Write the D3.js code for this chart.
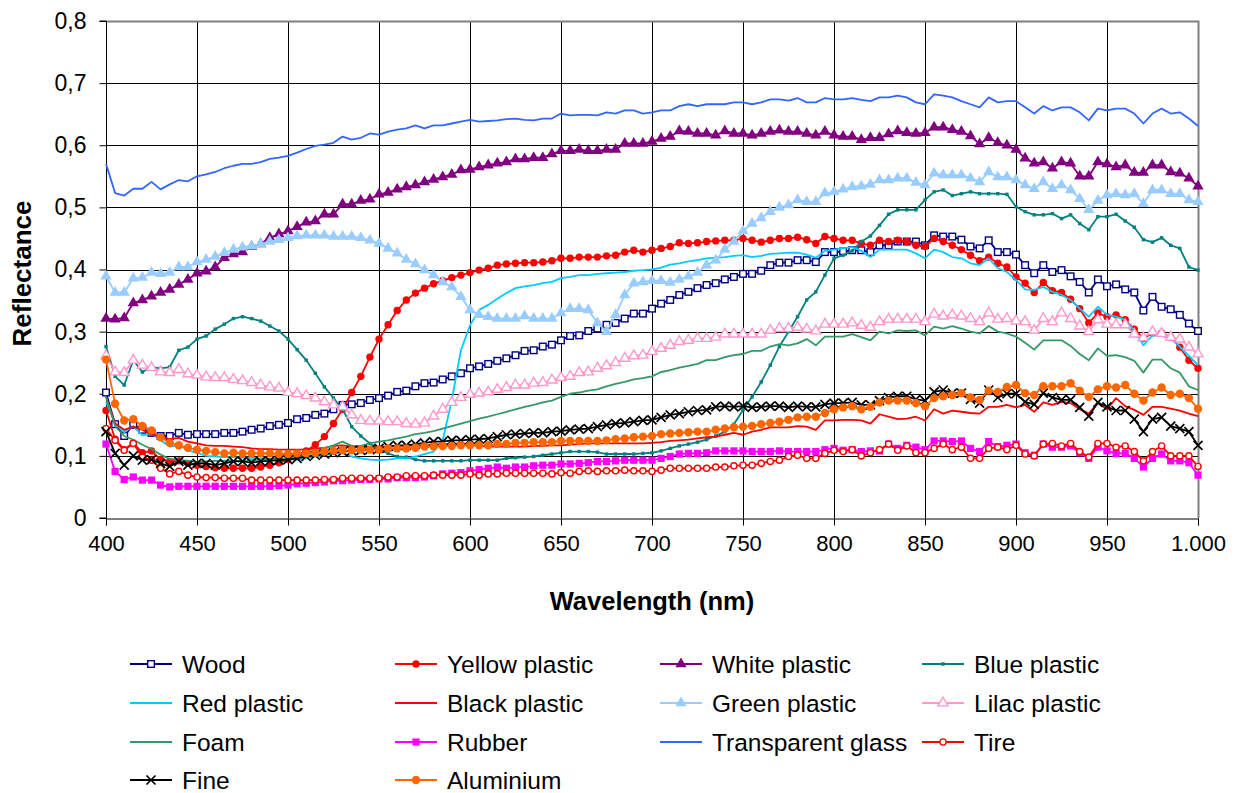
<!DOCTYPE html>
<html>
<head>
<meta charset="utf-8">
<script src="https://cdn.jsdelivr.net/npm/d3@7"></script>
<style>
body{margin:0;background:#fff;}
text{font-family:"Liberation Sans",Arial,sans-serif;fill:#000;}
</style>
</head>
<body>
<script>
// wavelengths, 5 nm step
var wavelengths = d3.range(400, 1001, 5)
var yTicks = [0, 0.1, 0.2, 0.3, 0.4, 0.5, 0.6, 0.7, 0.8]
var xTicks = [400, 450, 500, 550, 600, 650, 700, 750, 800, 850, 900, 950, 1000]

var wood = [0.202,0.151,0.132,0.150,0.142,0.137,0.132,0.132,0.137,0.134,0.135,0.135,
 0.135,0.137,0.137,0.139,0.142,0.144,0.148,0.150,0.153,0.159,0.161,0.166,
 0.168,0.175,0.182,0.183,0.185,0.190,0.193,0.197,0.203,0.205,0.212,0.217,
 0.218,0.223,0.228,0.233,0.241,0.244,0.248,0.253,0.257,0.262,0.269,0.270,
 0.276,0.279,0.286,0.293,0.294,0.301,0.305,0.311,0.314,0.321,0.329,0.329,
 0.337,0.345,0.351,0.359,0.364,0.370,0.375,0.378,0.384,0.388,0.393,0.393,
 0.398,0.407,0.411,0.411,0.415,0.415,0.412,0.428,0.428,0.429,0.431,0.431,
 0.428,0.439,0.439,0.445,0.445,0.445,0.439,0.455,0.453,0.453,0.448,0.437,
 0.434,0.447,0.428,0.428,0.424,0.407,0.394,0.407,0.396,0.399,0.389,0.380,
 0.363,0.384,0.373,0.376,0.368,0.363,0.334,0.356,0.340,0.336,0.327,0.313,
 0.301]
var yellowPlastic = [0.173,0.127,0.110,0.121,0.105,0.108,0.094,0.091,0.092,0.088,0.085,0.083,
 0.081,0.080,0.080,0.080,0.080,0.082,0.085,0.089,0.094,0.101,0.108,0.118,
 0.131,0.152,0.175,0.202,0.228,0.259,0.288,0.311,0.334,0.351,0.362,0.370,
 0.377,0.382,0.387,0.391,0.395,0.399,0.402,0.407,0.409,0.410,0.411,0.411,
 0.412,0.414,0.418,0.418,0.420,0.420,0.420,0.422,0.423,0.428,0.431,0.428,
 0.431,0.434,0.437,0.443,0.442,0.443,0.445,0.446,0.447,0.447,0.450,0.447,
 0.444,0.447,0.450,0.450,0.452,0.448,0.442,0.453,0.450,0.447,0.447,0.442,
 0.439,0.447,0.445,0.447,0.445,0.439,0.437,0.450,0.445,0.439,0.432,0.423,
 0.414,0.420,0.410,0.404,0.388,0.378,0.363,0.379,0.366,0.363,0.352,0.337,
 0.314,0.330,0.324,0.327,0.319,0.304,0.289,0.298,0.298,0.291,0.275,0.254,
 0.241]
var whitePlastic = [0.321,0.320,0.322,0.346,0.351,0.357,0.363,0.368,0.376,0.384,0.394,0.397,
 0.404,0.419,0.425,0.428,0.437,0.441,0.451,0.457,0.462,0.469,0.476,0.478,
 0.489,0.489,0.505,0.505,0.511,0.513,0.521,0.524,0.529,0.533,0.536,0.541,
 0.545,0.549,0.553,0.560,0.561,0.565,0.568,0.571,0.573,0.578,0.578,0.580,
 0.580,0.586,0.591,0.591,0.593,0.591,0.591,0.593,0.593,0.603,0.603,0.603,
 0.606,0.611,0.614,0.623,0.622,0.619,0.619,0.616,0.623,0.619,0.619,0.616,
 0.619,0.622,0.624,0.622,0.622,0.619,0.616,0.622,0.616,0.614,0.614,0.609,
 0.612,0.612,0.618,0.623,0.620,0.619,0.620,0.629,0.629,0.625,0.622,0.615,
 0.602,0.612,0.604,0.600,0.593,0.579,0.571,0.573,0.563,0.573,0.571,0.550,
 0.550,0.573,0.570,0.565,0.568,0.556,0.556,0.568,0.568,0.557,0.555,0.547,
 0.534]
var bluePlastic = [0.276,0.228,0.214,0.254,0.235,0.243,0.241,0.243,0.270,0.275,0.288,0.293,
 0.304,0.312,0.321,0.324,0.321,0.317,0.309,0.301,0.288,0.271,0.254,0.233,
 0.211,0.193,0.175,0.147,0.132,0.120,0.110,0.104,0.099,0.098,0.094,0.092,
 0.092,0.092,0.092,0.092,0.093,0.093,0.093,0.093,0.096,0.097,0.098,0.099,
 0.101,0.103,0.105,0.107,0.107,0.107,0.106,0.103,0.103,0.103,0.103,0.104,
 0.105,0.108,0.112,0.116,0.119,0.122,0.126,0.132,0.139,0.151,0.174,0.195,
 0.219,0.246,0.276,0.300,0.324,0.351,0.364,0.391,0.418,0.423,0.430,0.445,
 0.454,0.471,0.489,0.496,0.496,0.496,0.512,0.525,0.528,0.519,0.522,0.525,
 0.522,0.522,0.522,0.521,0.501,0.493,0.488,0.488,0.490,0.482,0.488,0.474,
 0.464,0.485,0.485,0.489,0.478,0.468,0.448,0.444,0.451,0.439,0.434,0.404,
 0.399]
var redPlastic = [0.187,0.153,0.138,0.148,0.133,0.136,0.125,0.115,0.117,0.109,0.105,0.100,
 0.099,0.098,0.098,0.097,0.097,0.096,0.095,0.095,0.095,0.094,0.096,0.099,
 0.101,0.104,0.105,0.099,0.096,0.094,0.093,0.094,0.096,0.096,0.099,0.103,
 0.107,0.125,0.190,0.270,0.310,0.335,0.343,0.353,0.362,0.370,0.373,0.375,
 0.378,0.380,0.386,0.388,0.391,0.391,0.393,0.394,0.395,0.396,0.398,0.399,
 0.400,0.403,0.408,0.410,0.413,0.415,0.418,0.419,0.420,0.422,0.423,0.420,
 0.422,0.425,0.426,0.427,0.427,0.424,0.419,0.430,0.432,0.434,0.436,0.430,
 0.420,0.432,0.432,0.432,0.432,0.426,0.418,0.432,0.428,0.420,0.418,0.410,
 0.407,0.418,0.402,0.396,0.383,0.368,0.367,0.372,0.364,0.359,0.351,0.337,
 0.324,0.340,0.327,0.324,0.319,0.302,0.278,0.294,0.293,0.289,0.276,0.261,
 0.246]
var blackPlastic = [0.195,0.152,0.142,0.147,0.142,0.134,0.131,0.127,0.129,0.123,0.120,0.117,
 0.116,0.116,0.115,0.114,0.112,0.111,0.111,0.110,0.110,0.110,0.110,0.112,
 0.113,0.116,0.117,0.115,0.113,0.113,0.115,0.115,0.116,0.116,0.117,0.117,
 0.118,0.119,0.119,0.120,0.118,0.116,0.115,0.115,0.115,0.115,0.115,0.116,
 0.116,0.117,0.117,0.118,0.119,0.120,0.120,0.120,0.120,0.120,0.120,0.120,
 0.121,0.122,0.124,0.125,0.126,0.128,0.130,0.131,0.134,0.137,0.134,0.139,
 0.142,0.146,0.146,0.146,0.148,0.147,0.142,0.157,0.157,0.158,0.158,0.157,
 0.152,0.167,0.163,0.159,0.160,0.163,0.157,0.175,0.168,0.173,0.171,0.169,
 0.168,0.179,0.179,0.182,0.178,0.182,0.171,0.186,0.182,0.187,0.185,0.175,
 0.168,0.185,0.175,0.193,0.180,0.174,0.166,0.179,0.179,0.176,0.173,0.168,
 0.164]
var greenPlastic = [0.389,0.363,0.363,0.386,0.387,0.395,0.393,0.395,0.404,0.404,0.412,0.416,
 0.421,0.427,0.432,0.436,0.438,0.441,0.445,0.448,0.451,0.454,0.455,0.455,
 0.455,0.453,0.453,0.453,0.451,0.447,0.442,0.434,0.426,0.416,0.409,0.399,
 0.391,0.380,0.372,0.356,0.335,0.327,0.324,0.321,0.321,0.321,0.325,0.321,
 0.321,0.321,0.330,0.337,0.337,0.335,0.314,0.300,0.327,0.359,0.378,0.380,
 0.382,0.382,0.379,0.384,0.389,0.395,0.407,0.415,0.432,0.445,0.462,0.474,
 0.483,0.493,0.500,0.504,0.512,0.509,0.509,0.523,0.525,0.529,0.533,0.534,
 0.537,0.544,0.544,0.547,0.547,0.540,0.536,0.555,0.552,0.552,0.552,0.547,
 0.541,0.557,0.549,0.549,0.544,0.536,0.530,0.541,0.530,0.536,0.528,0.514,
 0.496,0.511,0.520,0.522,0.520,0.522,0.506,0.528,0.528,0.522,0.522,0.512,
 0.509]
var lilacPlastic = [0.261,0.235,0.234,0.254,0.246,0.242,0.235,0.234,0.239,0.232,0.230,0.227,
 0.226,0.226,0.223,0.221,0.218,0.214,0.211,0.209,0.202,0.200,0.197,0.193,
 0.187,0.182,0.179,0.166,0.157,0.156,0.156,0.155,0.155,0.152,0.151,0.153,
 0.164,0.175,0.186,0.194,0.199,0.201,0.203,0.207,0.210,0.214,0.214,0.217,
 0.218,0.222,0.226,0.228,0.234,0.235,0.241,0.245,0.250,0.257,0.261,0.262,
 0.268,0.273,0.278,0.284,0.286,0.289,0.289,0.291,0.296,0.296,0.296,0.296,
 0.296,0.302,0.305,0.305,0.307,0.304,0.301,0.312,0.312,0.312,0.314,0.310,
 0.307,0.316,0.320,0.320,0.320,0.320,0.316,0.328,0.325,0.327,0.325,0.321,
 0.316,0.330,0.320,0.321,0.317,0.316,0.302,0.321,0.316,0.330,0.321,0.309,
 0.300,0.319,0.312,0.311,0.311,0.296,0.290,0.300,0.297,0.291,0.288,0.275,
 0.264]
var foam = [0.195,0.148,0.132,0.126,0.118,0.111,0.102,0.095,0.094,0.092,0.090,0.091,
 0.092,0.092,0.092,0.092,0.093,0.094,0.095,0.095,0.096,0.099,0.101,0.107,
 0.112,0.117,0.123,0.116,0.116,0.120,0.123,0.125,0.128,0.131,0.135,0.137,
 0.140,0.144,0.148,0.152,0.156,0.160,0.163,0.167,0.171,0.175,0.179,0.182,
 0.186,0.189,0.195,0.200,0.202,0.205,0.207,0.212,0.216,0.219,0.223,0.225,
 0.228,0.235,0.238,0.242,0.245,0.248,0.254,0.254,0.259,0.262,0.264,0.269,
 0.269,0.276,0.280,0.278,0.281,0.288,0.278,0.292,0.292,0.292,0.296,0.291,
 0.286,0.300,0.297,0.302,0.301,0.302,0.294,0.308,0.305,0.309,0.305,0.300,
 0.297,0.309,0.300,0.297,0.292,0.282,0.271,0.286,0.286,0.286,0.277,0.264,
 0.254,0.273,0.261,0.262,0.259,0.253,0.234,0.255,0.255,0.241,0.234,0.212,
 0.206]
var rubber = [0.119,0.075,0.062,0.066,0.061,0.061,0.053,0.050,0.051,0.051,0.051,0.051,
 0.051,0.051,0.051,0.051,0.051,0.051,0.051,0.052,0.053,0.055,0.056,0.057,
 0.058,0.060,0.060,0.061,0.062,0.062,0.063,0.063,0.065,0.065,0.065,0.066,
 0.068,0.071,0.072,0.073,0.076,0.078,0.080,0.082,0.080,0.082,0.082,0.084,
 0.085,0.085,0.087,0.087,0.088,0.089,0.091,0.091,0.092,0.093,0.093,0.093,
 0.093,0.096,0.099,0.103,0.104,0.104,0.105,0.108,0.108,0.108,0.108,0.107,
 0.107,0.107,0.108,0.107,0.107,0.107,0.107,0.110,0.112,0.109,0.110,0.107,
 0.108,0.108,0.119,0.112,0.117,0.114,0.110,0.124,0.124,0.123,0.124,0.112,
 0.107,0.123,0.115,0.117,0.119,0.105,0.101,0.119,0.114,0.114,0.116,0.105,
 0.096,0.114,0.108,0.104,0.104,0.096,0.082,0.096,0.103,0.092,0.092,0.089,
 0.069]
var transparentGlass = [0.570,0.523,0.519,0.530,0.530,0.541,0.529,0.537,0.544,0.542,0.550,0.553,
 0.557,0.563,0.567,0.570,0.570,0.573,0.578,0.580,0.583,0.588,0.594,0.599,
 0.601,0.604,0.614,0.609,0.612,0.619,0.617,0.622,0.625,0.627,0.632,0.627,
 0.632,0.632,0.635,0.638,0.641,0.638,0.639,0.640,0.642,0.643,0.641,0.640,
 0.643,0.643,0.651,0.648,0.649,0.649,0.648,0.653,0.651,0.656,0.656,0.651,
 0.653,0.656,0.656,0.663,0.666,0.663,0.666,0.666,0.666,0.669,0.669,0.666,
 0.669,0.674,0.674,0.672,0.676,0.669,0.669,0.676,0.674,0.674,0.676,0.673,
 0.671,0.677,0.677,0.680,0.677,0.669,0.666,0.682,0.680,0.677,0.671,0.666,
 0.661,0.677,0.669,0.671,0.671,0.661,0.651,0.663,0.656,0.661,0.661,0.653,
 0.640,0.659,0.656,0.659,0.659,0.651,0.635,0.651,0.659,0.651,0.653,0.643,
 0.631]
var tire = [0.144,0.125,0.109,0.120,0.098,0.093,0.080,0.071,0.075,0.069,0.066,0.065,
 0.065,0.064,0.064,0.064,0.061,0.061,0.061,0.061,0.061,0.061,0.061,0.061,
 0.062,0.062,0.064,0.064,0.064,0.064,0.064,0.066,0.066,0.068,0.068,0.068,
 0.069,0.069,0.069,0.069,0.071,0.069,0.071,0.071,0.072,0.072,0.072,0.072,
 0.072,0.071,0.073,0.072,0.075,0.076,0.075,0.076,0.076,0.077,0.076,0.076,
 0.075,0.077,0.080,0.080,0.080,0.080,0.080,0.082,0.082,0.084,0.085,0.085,
 0.088,0.091,0.093,0.099,0.101,0.096,0.096,0.104,0.109,0.107,0.110,0.100,
 0.105,0.110,0.119,0.109,0.116,0.105,0.105,0.112,0.119,0.110,0.114,0.096,
 0.096,0.112,0.114,0.110,0.117,0.103,0.100,0.119,0.120,0.116,0.120,0.107,
 0.098,0.120,0.120,0.114,0.116,0.107,0.092,0.107,0.116,0.100,0.100,0.100,
 0.083]
var fine = [0.139,0.104,0.085,0.100,0.093,0.094,0.088,0.083,0.091,0.085,0.088,0.088,
 0.085,0.088,0.091,0.091,0.089,0.091,0.092,0.093,0.094,0.096,0.099,0.101,
 0.103,0.105,0.107,0.108,0.109,0.110,0.112,0.115,0.117,0.117,0.119,0.121,
 0.123,0.123,0.125,0.125,0.126,0.127,0.128,0.131,0.134,0.135,0.136,0.137,
 0.137,0.139,0.140,0.142,0.143,0.144,0.147,0.150,0.152,0.153,0.155,0.157,
 0.158,0.162,0.166,0.168,0.171,0.173,0.174,0.179,0.180,0.179,0.180,0.178,
 0.179,0.180,0.180,0.178,0.180,0.179,0.179,0.183,0.185,0.185,0.186,0.182,
 0.182,0.189,0.194,0.196,0.196,0.191,0.189,0.203,0.206,0.201,0.201,0.191,
 0.185,0.206,0.194,0.200,0.200,0.187,0.183,0.201,0.194,0.190,0.190,0.178,
 0.164,0.186,0.179,0.173,0.173,0.159,0.139,0.159,0.162,0.148,0.144,0.139,
 0.117]
var aluminium = [0.255,0.184,0.157,0.159,0.148,0.141,0.130,0.121,0.117,0.113,0.110,0.108,
 0.106,0.104,0.105,0.104,0.104,0.104,0.104,0.103,0.103,0.104,0.104,0.105,
 0.107,0.108,0.109,0.109,0.110,0.110,0.110,0.112,0.112,0.112,0.113,0.115,
 0.115,0.116,0.116,0.117,0.117,0.117,0.117,0.119,0.119,0.121,0.121,0.122,
 0.122,0.122,0.124,0.124,0.124,0.124,0.124,0.125,0.127,0.128,0.130,0.131,
 0.132,0.135,0.136,0.137,0.138,0.139,0.139,0.142,0.144,0.146,0.147,0.148,
 0.151,0.153,0.155,0.158,0.162,0.163,0.163,0.169,0.175,0.178,0.180,0.175,
 0.179,0.186,0.189,0.189,0.189,0.185,0.180,0.193,0.196,0.198,0.201,0.194,
 0.190,0.205,0.203,0.211,0.214,0.201,0.198,0.212,0.212,0.212,0.217,0.205,
 0.195,0.207,0.212,0.210,0.214,0.200,0.189,0.202,0.210,0.198,0.200,0.193,
 0.176]

var seriesNames = ["Wood","Yellow plastic","White plastic","Blue plastic","Red plastic","Black plastic",
 "Green plastic","Lilac plastic","Foam","Rubber","Transparent glass","Tire","Fine","Aluminium"]
var seriesValues = [wood,yellowPlastic,whitePlastic,bluePlastic,redPlastic,blackPlastic,
 greenPlastic,lilacPlastic,foam,rubber,transparentGlass,tire,fine,aluminium]
var seriesColors = ["#000080","#ff0000","#800080","#008080","#00ccff","#ff0000",
 "#99ccff","#ff99cc","#339966","#ff00ff","#3366ff","#ff0000","#000000","#ff6600"]
var seriesMarkers = ["squareOpen","circle","triangle","dot","none","none",
 "triangle","triangleOpen","none","square","none","circleOpen","cross","circleBig"]

var width = 1237, height = 793
var margin = {top: 21, right: 39, bottom: 275, left: 106}
var w = width - margin.left - margin.right
var h = height - margin.top - margin.bottom

var svg = d3.select("body").append("svg")
  .attr("width", width)
  .attr("height", height)

var x = d3.scaleLinear().domain([400, 1000]).range([margin.left, margin.left + w])
var y = d3.scaleLinear().domain([0, 0.8]).range([margin.top + h, margin.top])

var loc = d3.formatLocale({decimal: ",", thousands: ".", grouping: [3], currency: ["", ""]})
var fy = function(d){ return d === 0 ? "0" : loc.format(".1f")(d) }
var fx = loc.format(",")

// grid
svg.append("g").selectAll("line.h").data(yTicks.slice(1, -1)).enter().append("line")
  .attr("x1", margin.left).attr("x2", margin.left + w)
  .attr("y1", function(d){ return Math.round(y(d)) + 0.5 })
  .attr("y2", function(d){ return Math.round(y(d)) + 0.5 })
  .attr("stroke", "#000").attr("stroke-width", 1)
svg.append("g").selectAll("line.v").data(xTicks.slice(1, -1)).enter().append("line")
  .attr("y1", margin.top).attr("y2", margin.top + h)
  .attr("x1", function(d){ return Math.round(x(d)) + 0.5 })
  .attr("x2", function(d){ return Math.round(x(d)) + 0.5 })
  .attr("stroke", "#000").attr("stroke-width", 1)

// plot border top / right
svg.append("path")
  .attr("d", "M" + margin.left + "," + (margin.top + 0.5) + "H" + (margin.left + w + 0.5) + "V" + (margin.top + h))
  .attr("fill", "none").attr("stroke", "#808080").attr("stroke-width", 2)

// axes
var yAxis = d3.axisLeft(y).tickValues(yTicks).tickFormat(fy).tickSize(7).tickPadding(13)
var xAxis = d3.axisBottom(x).tickValues(xTicks).tickFormat(fx).tickSize(7).tickPadding(10)
var gy = svg.append("g").attr("transform", "translate(" + (margin.left + 0.5) + ",0)").call(yAxis)
var gx = svg.append("g").attr("transform", "translate(0," + (margin.top + h + 0.5) + ")").call(xAxis)
gy.selectAll("text").style("font-size", "23px")
gx.selectAll("text").style("font-size", "22px")
gy.selectAll("path,line").attr("stroke", "#000")
gx.selectAll("path,line").attr("stroke", "#000")
gy.select(".domain").attr("d", "M-7," + (margin.top) + "H0V" + (margin.top + h) + "H-7")

svg.append("text")
  .attr("x", margin.left + w / 2).attr("y", 610)
  .attr("text-anchor", "middle").style("font-size", "25.5px").style("font-weight", "bold")
  .text("Wavelength (nm)")
svg.append("text")
  .attr("transform", "translate(31," + (margin.top + h / 2 + 4) + ") rotate(-90)")
  .attr("text-anchor", "middle").style("font-size", "26px").style("font-weight", "bold")
  .text("Reflectance")

var drawMarker = function(g, type, color){
  if (type == "squareOpen") {
    g.append("rect").attr("x", -3.3).attr("y", -3.3).attr("width", 6.6).attr("height", 6.6)
      .attr("fill", "#fff").attr("stroke", color).attr("stroke-width", 1.4)
  } else if (type == "square") {
    g.append("rect").attr("x", -3.6).attr("y", -3.6).attr("width", 7.2).attr("height", 7.2)
      .attr("fill", color)
  } else if (type == "dot") {
    g.append("rect").attr("x", -1.7).attr("y", -1.7).attr("width", 3.4).attr("height", 3.4)
      .attr("fill", color)
  } else if (type == "circle") {
    g.append("circle").attr("r", 3.7).attr("fill", color)
  } else if (type == "circleBig") {
    g.append("circle").attr("r", 4.2).attr("fill", color)
  } else if (type == "circleOpen") {
    g.append("circle").attr("r", 3.1).attr("fill", "#fff").attr("stroke", color).attr("stroke-width", 1.4)
  } else if (type == "triangle") {
    g.append("path").attr("d", d3.symbol().type(d3.symbolTriangle).size(55)()).attr("fill", color)
  } else if (type == "triangleOpen") {
    g.append("path").attr("d", d3.symbol().type(d3.symbolTriangle).size(44)())
      .attr("fill", "#fff").attr("stroke", color).attr("stroke-width", 1.4)
  } else if (type == "cross") {
    g.append("path").attr("d", "M-4.5,-4.5L4.5,4.5M-4.5,4.5L4.5,-4.5").attr("stroke", color).attr("stroke-width", 1.7)
  }
}

var line = d3.line()
  .x(function(d){ return x(d.wl) })
  .y(function(d){ return y(d.v) })

seriesNames.forEach(function(name, i){
  var pts = wavelengths.map(function(wl, j){ return {wl: wl, v: seriesValues[i][j]} })
  var g = svg.append("g").attr("class", "series")
  g.append("path").datum(pts)
    .attr("d", line)
    .attr("fill", "none")
    .attr("stroke", seriesColors[i])
    .attr("stroke-width", 1.8)
    .attr("stroke-linejoin", "round")
  if (seriesMarkers[i] != "none") {
    g.selectAll("g.m").data(pts).enter().append("g")
      .attr("transform", function(d){ return "translate(" + x(d.wl) + "," + y(d.v) + ")" })
      .each(function(){ drawMarker(d3.select(this), seriesMarkers[i], seriesColors[i]) })
  }
})

// legend
var legCols = [130, 395, 660, 922]
var legRows = [664, 703, 742, 780]
var leg = svg.append("g")
seriesNames.forEach(function(name, i){
  var cx = legCols[i % 4], cy = legRows[Math.floor(i / 4)]
  var g = leg.append("g").attr("transform", "translate(" + cx + "," + cy + ")")
  g.append("line").attr("x1", 0).attr("x2", 42).attr("y1", 0).attr("y2", 0)
    .attr("stroke", seriesColors[i]).attr("stroke-width", 1.8)
  if (seriesMarkers[i] != "none") {
    drawMarker(g.append("g").attr("transform", "translate(21,0)"), seriesMarkers[i], seriesColors[i])
  }
  g.append("text").attr("x", 52).attr("y", 0).attr("dy", "0.35em")
    .style("font-size", "24.5px").text(name)
})
</script>
</body>
</html>
